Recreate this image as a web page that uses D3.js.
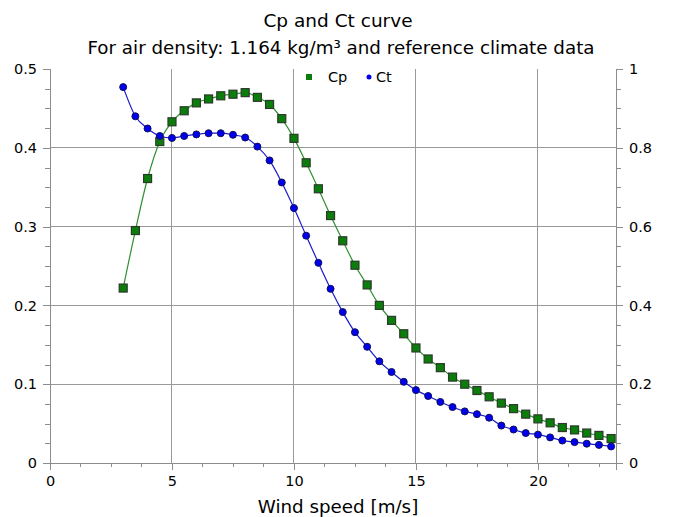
<!DOCTYPE html>
<html>
<head>
<meta charset="utf-8">
<script src="https://d3js.org/d3.v7.min.js"></script>
<style>
  body { margin: 0; background: #fff; }
  svg text { font-family: 'DejaVu Sans', Verdana, sans-serif; fill: #000; }
</style>
</head>
<body>
<svg width="673" height="517"></svg>
<script>
// wind speed [m/s]
var windSpeed = [3, 3.5, 4, 4.5, 5, 5.5, 6, 6.5, 7, 7.5, 8, 8.5, 9, 9.5, 10, 10.5, 11, 11.5, 12, 12.5,
  13, 13.5, 14, 14.5, 15, 15.5, 16, 16.5, 17, 17.5, 18, 18.5, 19, 19.5, 20, 20.5, 21, 21.5, 22, 22.5, 23];
var cp = [0.222, 0.295, 0.361, 0.408, 0.433, 0.447, 0.457, 0.462, 0.466, 0.468, 0.470, 0.464, 0.455, 0.437,
  0.412, 0.381, 0.348, 0.314, 0.282, 0.251, 0.226, 0.200, 0.181, 0.164, 0.146, 0.132, 0.121, 0.109, 0.100,
  0.092, 0.084, 0.076, 0.069, 0.062, 0.056, 0.051, 0.045, 0.042, 0.038, 0.035, 0.031];
var ct = [0.954, 0.880, 0.849, 0.830, 0.825, 0.830, 0.834, 0.837, 0.837, 0.833, 0.826, 0.803, 0.768, 0.712,
  0.647, 0.577, 0.508, 0.442, 0.383, 0.332, 0.295, 0.258, 0.231, 0.206, 0.185, 0.170, 0.155, 0.142, 0.131,
  0.124, 0.115, 0.095, 0.085, 0.076, 0.072, 0.065, 0.057, 0.053, 0.049, 0.046, 0.042];
var xTicks = [0, 5, 10, 15, 20];
var cpTicks = [0, 0.1, 0.2, 0.3, 0.4, 0.5];
var ctTicks = [0, 0.2, 0.4, 0.6, 0.8, 1];

var svg = d3.select("svg"),
  margin = { top: 69, right: 57, bottom: 54, left: 50 },
  width = +svg.attr("width") - margin.left - margin.right,
  height = +svg.attr("height") - margin.top - margin.bottom,
  g = svg.append("g").attr("transform", "translate(" + margin.left + "," + margin.top + ")");

var x = d3.scaleLinear().domain([0, 23.2]).range([0, width]);
var yL = d3.scaleLinear().domain([0, 0.5]).range([height, 0]);
var yR = d3.scaleLinear().domain([0, 1]).range([height, 0]);

var axisColor = "#8c8c8c";

// rejilla
g.append("g").selectAll("line").data(xTicks.slice(1)).enter().append("line")
  .attr("x1", function (d) { return x(d); }).attr("x2", function (d) { return x(d); })
  .attr("y1", 0).attr("y2", height)
  .attr("stroke", "#999").attr("stroke-width", 1).attr("shape-rendering", "crispEdges");
g.append("g").selectAll("line").data(cpTicks.slice(1, -1)).enter().append("line")
  .attr("x1", 0).attr("x2", width)
  .attr("y1", function (d) { return yL(d); }).attr("y2", function (d) { return yL(d); })
  .attr("stroke", "#999").attr("stroke-width", 1).attr("shape-rendering", "crispEdges");

function styleAxis(sel) {
  sel.select(".domain").attr("stroke", axisColor);
  sel.selectAll(".tick line").attr("stroke", axisColor);
  sel.selectAll(".tick text").style("font-size", "14.5px").attr("fill", "#000");
  sel.attr("shape-rendering", "crispEdges");
}

// minor ticks
var xMinor = d3.range(0, 23.2, 1.25).filter(function (d) { return d % 5 !== 0; });
g.append("g").attr("transform", "translate(0," + height + ")")
  .call(d3.axisBottom(x).tickValues(xMinor).tickSize(4).tickFormat(""))
  .call(styleAxis);
g.append("g")
  .call(d3.axisLeft(yL).tickValues(d3.range(0.025, 0.5, 0.025)).tickSize(5).tickFormat(""))
  .call(styleAxis);
g.append("g").attr("transform", "translate(" + width + ",0)")
  .call(d3.axisRight(yR).tickValues(d3.range(0.05, 1, 0.05)).tickSize(5).tickFormat(""))
  .call(styleAxis);

// ejes principales
g.append("g").attr("transform", "translate(0," + height + ")")
  .call(d3.axisBottom(x).tickValues(xTicks).tickSize(7).tickPadding(6).tickFormat(d3.format("d")))
  .call(styleAxis);
g.append("g")
  .call(d3.axisLeft(yL).tickValues(cpTicks).tickSize(7).tickPadding(6).tickFormat(function (d) { return d === 0 ? "0" : d3.format(".1f")(d); }))
  .call(styleAxis);
g.append("g").attr("transform", "translate(" + width + ",0)")
  .call(d3.axisRight(yR).tickValues(ctTicks).tickSize(7).tickPadding(6).tickFormat(function (d) { return (d === 0 || d === 1) ? d : d3.format(".1f")(d); }))
  .call(styleAxis);

var dataCp = windSpeed.map(function (d, i) { return { v: d, y: cp[i] }; });
var dataCt = windSpeed.map(function (d, i) { return { v: d, y: ct[i] }; });

var lineCp = d3.line().curve(d3.curveMonotoneX)
  .x(function (d) { return x(d.v); }).y(function (d) { return yL(d.y); });
var lineCt = d3.line().curve(d3.curveMonotoneX)
  .x(function (d) { return x(d.v); }).y(function (d) { return yR(d.y); });

g.append("path").datum(dataCp).attr("d", lineCp)
  .attr("fill", "none").attr("stroke", "#2f8f2f").attr("stroke-width", 1.2);
g.append("path").datum(dataCt).attr("d", lineCt)
  .attr("fill", "none").attr("stroke", "#1a1acc").attr("stroke-width", 1.2);

var sq = 8;
g.selectAll(".cp").data(dataCp).enter().append("rect")
  .attr("class", "cp")
  .attr("x", function (d) { return x(d.v) - sq / 2; })
  .attr("y", function (d) { return yL(d.y) - sq / 2; })
  .attr("width", sq).attr("height", sq)
  .attr("fill", "#0a7d0a").attr("stroke", "#2b3a2b").attr("stroke-width", 1.2);

g.selectAll(".ct").data(dataCt).enter().append("circle")
  .attr("class", "ct")
  .attr("cx", function (d) { return x(d.v); })
  .attr("cy", function (d) { return yR(d.y); })
  .attr("r", 3.5)
  .attr("fill", "#0000ee").attr("stroke", "#10105a").attr("stroke-width", 1);

// leyenda
var leg = svg.append("g").attr("transform", "translate(306,77)");
leg.append("rect").attr("x", 0).attr("y", -3).attr("width", 6).attr("height", 6).attr("fill", "#0a7d0a");
leg.append("text").attr("x", 22).attr("y", 5).style("font-size", "14.5px").text("Cp");
leg.append("circle").attr("cx", 63).attr("cy", 0).attr("r", 2.5).attr("fill", "#0000ee");
leg.append("text").attr("x", 70).attr("y", 5).style("font-size", "14.5px").text("Ct");

// titulos
svg.append("text").attr("x", 338).attr("y", 27).attr("text-anchor", "middle")
  .style("font-size", "18.5px").text("Cp and Ct curve");
svg.append("text").attr("x", 341).attr("y", 54).attr("text-anchor", "middle")
  .style("font-size", "18.3px").text("For air density: 1.164 kg/m³ and reference climate data");
svg.append("text").attr("x", 338).attr("y", 513).attr("text-anchor", "middle")
  .style("font-size", "18.3px").text("Wind speed [m/s]");
</script>
</body>
</html>
